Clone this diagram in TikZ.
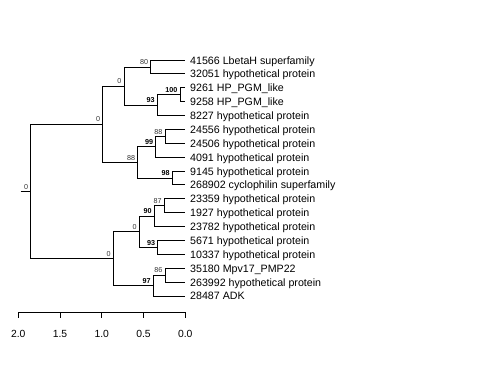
\documentclass[tikz,border=0pt]{standalone}
\usepackage{fontspec}
\setmainfont{Liberation Sans}
\begin{document}
\begin{tikzpicture}[
  x=1bp, y=-1bp,
  edge/.style={draw=black, line width=0.9bp},
  leaf/.style={anchor=base west, inner sep=0pt, font=\fontsize{10.7}{12}\selectfont},
  bs/.style={anchor=south east, inner sep=0pt, xshift=-2.5bp, yshift=2bp,
    font=\fontsize{7.2}{8}\selectfont, text=black!80},
  bsb/.style={bs, font=\fontsize{7.2}{8}\selectfont\bfseries, text=black},
  tick/.style={anchor=base, inner sep=0pt, font=\fontsize{10.4}{12}\selectfont}
]
  \useasboundingbox (0,0) rectangle (480,384);

  % tips and their labels
  \foreach \i/\txt in {1/{41566 LbetaH superfamily}, 2/{32051 hypothetical protein},
      3/{9261 HP\_PGM\_like}, 4/{9258 HP\_PGM\_like}, 5/{8227 hypothetical protein},
      6/{24556 hypothetical protein}, 7/{24506 hypothetical protein},
      8/{4091 hypothetical protein}, 9/{9145 hypothetical protein},
      10/{268902 cyclophilin superfamily}, 11/{23359 hypothetical protein},
      12/{1927 hypothetical protein}, 13/{23782 hypothetical protein},
      14/{5671 hypothetical protein}, 15/{10337 hypothetical protein},
      16/{35180 Mpv17\_PMP22}, 17/{263992 hypothetical protein}, 18/{28487 ADK}} {
    \coordinate (t\i) at (185, {60+(\i-1)*13.88});
    \node[leaf] (l\i) at (190, {64+(\i-1)*13.88}) {\txt};
  }

  % inner nodes
  \coordinate (n80) at (150.7, 67.0);
  \coordinate (n100) at (180, 94.7);
  \coordinate (n93a) at (157.3, 105.1);
  \coordinate (n0a) at (124, 86.0);
  \coordinate (n88a) at (165, 136.4);
  \coordinate (n99) at (155.7, 146.8);
  \coordinate (n98) at (172.3, 178.0);
  \coordinate (n88b) at (137.7, 162.4);
  \coordinate (n0b) at (102.7, 124.2);
  \coordinate (n87) at (164.3, 205.7);
  \coordinate (n90) at (154.3, 216.2);
  \coordinate (n93b) at (157.7, 247.4);
  \coordinate (n0c) at (139.3, 231.8);
  \coordinate (n86) at (165, 275.1);
  \coordinate (n97) at (153.3, 285.6);
  \coordinate (n0d) at (113.3, 258.7);
  \coordinate (root) at (30.7, 191.5);
  \coordinate (stub) at (20.7, 191.5);

  % branches
  \draw[edge] (stub) -- (root);
  \draw[edge] (root) |- (n0b);
  \draw[edge] (root) |- (n0d);
  \draw[edge] (n0b) |- (n0a);
  \draw[edge] (n0b) |- (n88b);
  \draw[edge] (n0a) |- (n80);
  \draw[edge] (n0a) |- (n93a);
  \draw[edge] (n80) |- (t1);
  \draw[edge] (n80) |- (t2);
  \draw[edge] (n93a) |- (n100);
  \draw[edge] (n93a) |- (t5);
  \draw[edge] (n100) |- (t3);
  \draw[edge] (n100) |- (t4);
  \draw[edge] (n88b) |- (n99);
  \draw[edge] (n88b) |- (n98);
  \draw[edge] (n99) |- (n88a);
  \draw[edge] (n99) |- (t8);
  \draw[edge] (n88a) |- (t6);
  \draw[edge] (n88a) |- (t7);
  \draw[edge] (n98) |- (t9);
  \draw[edge] (n98) |- (t10);
  \draw[edge] (n0d) |- (n0c);
  \draw[edge] (n0d) |- (n97);
  \draw[edge] (n0c) |- (n90);
  \draw[edge] (n0c) |- (n93b);
  \draw[edge] (n90) |- (n87);
  \draw[edge] (n90) |- (t13);
  \draw[edge] (n87) |- (t11);
  \draw[edge] (n87) |- (t12);
  \draw[edge] (n93b) |- (t14);
  \draw[edge] (n93b) |- (t15);
  \draw[edge] (n97) |- (n86);
  \draw[edge] (n97) |- (t18);
  \draw[edge] (n86) |- (t16);
  \draw[edge] (n86) |- (t17);

  % support values
  \node[bs] (broot) at (root) {0};
  \node[bs] (b0b) at (n0b) {0};
  \node[bs] (b0a) at (n0a) {0};
  \node[bs] (b80) at (n80) {80};
  \node[bsb] (b93a) at (n93a) {93};
  \node[bsb] (b100) at (n100) {100};
  \node[bs] (b88b) at (n88b) {88};
  \node[bsb] (b99) at (n99) {99};
  \node[bs] (b88a) at (n88a) {88};
  \node[bsb] (b98) at (n98) {98};
  \node[bs] (b0d) at (n0d) {0};
  \node[bs] (b0c) at (n0c) {0};
  \node[bsb] (b90) at (n90) {90};
  \node[bs] (b87) at (n87) {87};
  \node[bsb] (b93b) at (n93b) {93};
  \node[bsb] (b97) at (n97) {97};
  \node[bs] (b86) at (n86) {86};

  % scale axis
  \foreach \k/\v in {0/0.0, 1/0.5, 2/1.0, 3/1.5, 4/2.0} {
    \coordinate (a\k) at ({185.3-\k*41.75}, 312.3);
    \draw[edge] (a\k) -- ++(0, 6);
    \node[tick] (al\k) at ({185.3-\k*41.75}, 337.3) {\v};
  }
  \draw[edge] (a4) -- (a0);
\end{tikzpicture}
\end{document}
